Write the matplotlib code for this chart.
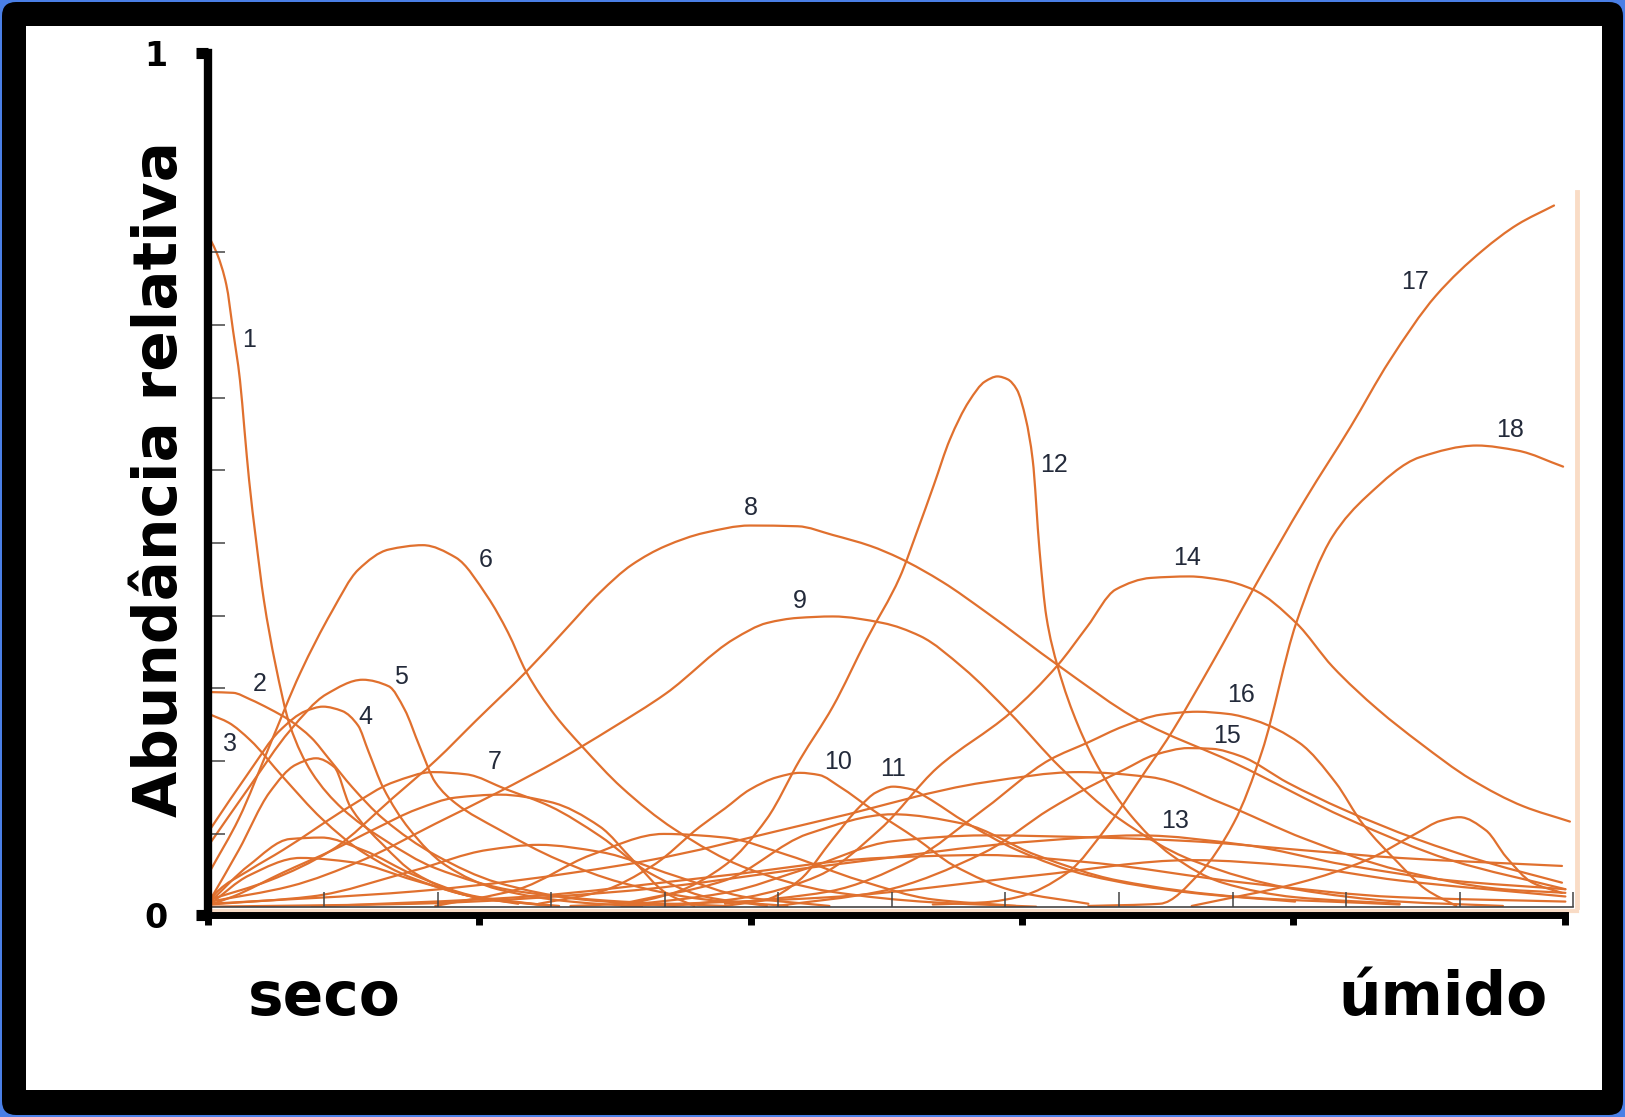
import matplotlib
matplotlib.use('Agg')
import matplotlib.pyplot as plt
from matplotlib.patches import FancyBboxPatch, Rectangle, PathPatch
from matplotlib.path import Path
from matplotlib.lines import Line2D
from matplotlib.transforms import IdentityTransform

# gradient position (0 = seco, 12 = umido) and abundance
c1_x = [0, 0.06, 0.14, 0.20, 0.26, 0.30, 0.34, 0.40, 0.47, 0.57, 0.70, 0.89, 1.16, 1.52, 1.98, 2.71, 3.62, 4.53]
c1_y = [9.17, 8.97, 8.55, 7.91, 7.24, 6.55, 5.87, 5.06, 4.22, 3.35, 2.49, 1.85, 1.35, 0.93, 0.53, 0.21, 0.07, 0.01]
c2_x = [0, 0.20, 0.35, 0.52, 0.70, 0.89, 1.05, 1.25, 1.52, 1.98, 2.53, 3.26, 4.08]
c2_y = [2.95, 2.94, 2.85, 2.72, 2.56, 2.32, 2.02, 1.64, 1.21, 0.71, 0.33, 0.10, 0.01]
c3_x = [0, 0.16, 0.35, 0.64, 0.98, 1.34, 1.80, 2.34, 2.98]
c3_y = [2.64, 2.53, 2.29, 1.78, 1.21, 0.75, 0.38, 0.13, 0.01]
c4_x = [0, 0.34, 0.61, 0.84, 0.99, 1.16, 1.30, 1.39, 1.52, 1.75, 2.07, 2.53, 3.17, 3.80]
c4_y = [1.07, 1.85, 2.42, 2.69, 2.75, 2.69, 2.49, 2.14, 1.64, 1.07, 0.57, 0.24, 0.07, 0.0]
c5_x = [0, 0.34, 0.70, 1.02, 1.34, 1.57, 1.71, 1.84, 1.98, 2.16, 2.53, 3.07, 3.62, 4.35, 5.08]
c5_y = [0.88, 1.64, 2.42, 2.92, 3.12, 3.03, 2.71, 2.21, 1.71, 1.42, 1.07, 0.64, 0.33, 0.10, 0.01]
c6_x = [0, 0.25, 0.52, 0.79, 1.07, 1.30, 1.57, 1.87, 2.16, 2.44, 2.62, 2.78, 3.03, 3.28, 3.62, 4.08, 4.72, 5.45, 6.36, 7.27]
c6_y = [0.50, 1.21, 2.21, 3.21, 4.06, 4.63, 4.91, 4.97, 4.80, 4.26, 3.77, 3.23, 2.64, 2.19, 1.64, 1.07, 0.53, 0.21, 0.06, 0.0]
c7_x = [0, 0.05, 0.34, 0.64, 1.23, 1.61, 1.96, 2.25, 2.61, 2.99, 3.43, 3.87, 4.35, 4.90]
c7_y = [0.07, 0.19, 0.50, 0.78, 1.38, 1.71, 1.85, 1.82, 1.61, 1.38, 0.97, 0.46, 0.14, 0.01]
c8_x = [0, 0.52, 1.07, 1.61, 1.99, 2.34, 2.78, 3.12, 3.43, 3.71, 4.01, 4.35, 4.75, 5.17, 5.48,
        5.81, 6.07, 6.45, 6.82, 7.48, 8.18, 9.01, 10.01, 10.92, 11.93]
c8_y = [0.10, 0.36, 0.78, 1.50, 2.02, 2.56, 3.23, 3.80, 4.32, 4.70, 4.96, 5.14, 5.24, 5.23, 5.11,
        4.96, 4.79, 4.46, 4.06, 3.30, 2.56, 1.98, 1.21, 0.64, 0.24]
c9_x = [0, 0.70, 1.34, 1.98, 2.53, 3.07, 3.53, 4.01, 4.61, 4.90, 5.17, 5.48, 5.92, 6.25, 6.63,
        7.04, 7.48, 8.00, 8.64, 9.55, 10.47, 11.38]
c9_y = [0.07, 0.28, 0.64, 1.14, 1.57, 2.02, 2.45, 2.93, 3.68, 3.90, 3.97, 3.99, 3.90, 3.72, 3.28,
        2.66, 1.92, 1.21, 0.64, 0.24, 0.07, 0.01]
c10_x = [2.89, 3.44, 3.90, 4.31, 4.53, 4.75, 4.99, 5.19, 5.36, 5.54, 5.84, 6.22, 6.54, 7.09, 7.73]
c10_y = [0.04, 0.21, 0.57, 1.10, 1.35, 1.61, 1.78, 1.84, 1.81, 1.65, 1.32, 0.93, 0.57, 0.21, 0.04]
c11_x = [4.53, 4.90, 5.19, 5.48, 5.72, 5.86, 6.01, 6.18, 6.30, 6.66, 7.10, 7.73, 8.64, 9.55]
c11_y = [0.01, 0.10, 0.37, 0.93, 1.38, 1.57, 1.65, 1.61, 1.51, 1.15, 0.78, 0.43, 0.19, 0.07]
c12_x = [3.17, 3.62, 4.08, 4.53, 4.90, 5.19, 5.48, 5.78, 6.07, 6.22, 6.37, 6.51, 6.68, 6.82, 6.93,
         7.02, 7.10, 7.18, 7.24, 7.30, 7.36, 7.46, 7.64, 7.83, 8.09, 8.46, 8.91, 9.55, 10.47]
c12_y = [0.01, 0.04, 0.19, 0.57, 1.21, 2.02, 2.75, 3.68, 4.53, 5.15, 5.80, 6.42, 6.95, 7.22, 7.29,
         7.25, 7.11, 6.70, 6.14, 4.90, 3.99, 3.30, 2.49, 1.88, 1.28, 0.71, 0.33, 0.13, 0.04]
c13_x = [3.62, 4.53, 5.26, 6.01, 6.82, 7.83, 8.64, 9.59, 10.47, 11.90]
c13_y = [0.01, 0.19, 0.53, 0.90, 0.98, 0.95, 0.90, 0.78, 0.67, 0.56]
c14_x = [4.08, 4.72, 5.36, 5.90, 6.40, 7.04, 7.46, 7.72, 7.97, 8.28, 8.62, 8.91, 9.18, 9.56,
         9.88, 10.28, 10.65, 11.10, 11.56, 11.97]
c14_y = [0.01, 0.13, 0.43, 1.07, 1.91, 2.66, 3.32, 3.85, 4.36, 4.52, 4.54, 4.49, 4.36, 3.90,
         3.30, 2.71, 2.25, 1.75, 1.38, 1.17]
c15_x = [4.99, 5.90, 6.82, 7.39, 7.73, 8.04, 8.32, 8.61, 8.82, 9.07, 9.49, 9.97, 10.62, 11.26, 11.90]
c15_y = [0.01, 0.21, 0.75, 1.34, 1.64, 1.88, 2.09, 2.18, 2.17, 2.07, 1.70, 1.34, 0.93, 0.60, 0.33]
c16_x = [4.53, 5.45, 6.18, 6.82, 7.39, 7.73, 8.04, 8.37, 8.69, 8.96, 9.20, 9.59, 9.91, 10.14,
         10.46, 10.70, 10.97]
c16_y = [0.04, 0.21, 0.64, 1.35, 2.02, 2.26, 2.48, 2.64, 2.68, 2.65, 2.56, 2.25, 1.70, 1.15,
         0.60, 0.24, 0.01]
c17_x = [6.36, 6.82, 7.13, 7.54, 7.92, 8.24, 8.42, 8.82, 9.18, 9.64, 10.04, 10.38, 10.79, 11.20, 11.51, 11.83]
c17_y = [0.03, 0.06, 0.14, 0.46, 1.15, 1.88, 2.29, 3.35, 4.36, 5.60, 6.60, 7.50, 8.40, 9.02, 9.38, 9.64]
c18_x = [7.73, 8.36, 8.71, 9.01, 9.26, 9.56, 9.88, 10.18, 10.65, 11.15, 11.51, 11.91]
c18_y = [0.01, 0.04, 0.46, 1.15, 2.14, 3.90, 5.09, 5.64, 6.18, 6.34, 6.27, 6.05]

# unlabelled species in the tangle near the base
b1_x = [0, 0.20, 0.64, 1.08, 1.45, 1.82, 2.16, 2.55, 2.99, 3.43, 3.72, 4.01, 4.26]
b1_y = [0.03, 0.14, 0.47, 0.78, 1.07, 1.34, 1.50, 1.54, 1.44, 1.10, 0.64, 0.19, 0.01]
b2_x = [0, 0.89, 1.80, 2.44, 2.89, 3.44, 4.08, 4.72, 5.45]
b2_y = [0.03, 0.14, 0.50, 0.78, 0.85, 0.75, 0.43, 0.13, 0.01]
b3_x = [1.98, 2.71, 3.35, 3.99, 4.53, 5.08, 5.72, 6.36, 7.09]
b3_y = [0.01, 0.24, 0.71, 1.00, 0.95, 0.71, 0.36, 0.10, 0.01]
b4_x = [3.62, 4.53, 5.26, 6.01, 6.63, 7.27, 7.99, 9.10, 10.47]
b4_y = [0.04, 0.36, 1.00, 1.27, 1.14, 0.71, 0.36, 0.13, 0.03]
b5_x = [0, 1.80, 3.62, 5.45, 6.82, 7.64, 8.28, 8.91, 9.64, 10.47, 11.38, 11.93]
b5_y = [0.04, 0.21, 0.57, 1.21, 1.71, 1.85, 1.78, 1.42, 0.93, 0.50, 0.24, 0.19]
b6_x = [8.64, 9.59, 10.18, 10.62, 10.83, 11.00, 11.23, 11.41, 11.64, 11.90]
b6_y = [0.01, 0.33, 0.64, 1.01, 1.18, 1.23, 1.05, 0.68, 0.33, 0.19]
b7_x = [0, 0.34, 0.70, 0.98, 1.34, 1.80, 2.34, 2.89]
b7_y = [0.07, 0.57, 0.93, 0.95, 0.78, 0.43, 0.14, 0.03]
b8_x = [0, 0.34, 0.79, 1.25, 1.80, 2.44, 3.07]
b8_y = [0.04, 0.43, 0.67, 0.61, 0.36, 0.10, 0.01]
b9_x = [0, 0.25, 0.52, 0.75, 0.93, 1.09, 1.23, 1.52, 1.80, 2.25, 2.71]
b9_y = [0.10, 0.78, 1.57, 1.95, 2.04, 1.92, 1.38, 0.85, 0.46, 0.16, 0.04]
b10_x = [0, 1.80, 3.62, 5.45, 7.27, 8.18, 9.10, 10.01, 10.92, 11.93]
b10_y = [0.0, 0.04, 0.21, 0.57, 0.90, 0.98, 0.85, 0.57, 0.36, 0.24]
b11_x = [3.62, 5.45, 7.27, 8.64, 9.55, 10.47, 11.93]
b11_y = [0.01, 0.13, 0.43, 0.64, 0.56, 0.36, 0.14]
b12_x = [0.89, 2.71, 4.53, 5.90, 6.82, 7.73, 9.10, 10.47, 11.93]
b12_y = [0.0, 0.13, 0.43, 0.67, 0.71, 0.61, 0.33, 0.13, 0.07]

label_text = [str(i) for i in range(1, 19)]
label_x = [0.34, 0.43, 0.17, 1.36, 1.68, 2.42, 2.50, 4.76, 5.19, 5.53, 6.01, 7.43, 8.49, 8.60, 8.95, 9.07, 10.61, 11.44]
label_y = [7.79, 3.06, 2.24, 2.61, 3.16, 4.76, 1.99, 5.48, 4.20, 1.99, 1.89, 6.07, 1.18, 4.80, 2.35, 2.91, 8.59, 6.55]

curves = [(c1_x, c1_y), (c2_x, c2_y), (c3_x, c3_y), (c4_x, c4_y), (c5_x, c5_y), (c6_x, c6_y),
          (c7_x, c7_y), (c8_x, c8_y), (c9_x, c9_y), (c10_x, c10_y), (c11_x, c11_y), (c12_x, c12_y),
          (c13_x, c13_y), (c14_x, c14_y), (c15_x, c15_y), (c16_x, c16_y), (c17_x, c17_y), (c18_x, c18_y),
          (b1_x, b1_y), (b2_x, b2_y), (b3_x, b3_y), (b4_x, b4_y), (b5_x, b5_y), (b6_x, b6_y),
          (b7_x, b7_y), (b8_x, b8_y), (b9_x, b9_y), (b10_x, b10_y), (b11_x, b11_y), (b12_x, b12_y)]

orange = '#e0702e'
peach = '#f9dcc6'


def smooth_path(xs, ys):
    # bezier path through the read points, tangents kept monotone so peaks don't overshoot
    n = len(xs)
    h = [xs[i + 1] - xs[i] for i in range(n - 1)]
    d = [(ys[i + 1] - ys[i]) / h[i] for i in range(n - 1)]
    m = [d[0]] + [0.0] * (n - 2) + [d[-1]]
    for k in range(1, n - 1):
        if d[k - 1] * d[k] > 0:
            w1 = 2 * h[k] + h[k - 1]
            w2 = h[k] + 2 * h[k - 1]
            m[k] = (w1 + w2) / (w1 / d[k - 1] + w2 / d[k])
    verts = [(xs[0], ys[0])]
    codes = [Path.MOVETO]
    for i in range(n - 1):
        verts += [(xs[i] + h[i] / 3, ys[i] + m[i] * h[i] / 3),
                  (xs[i + 1] - h[i] / 3, ys[i + 1] - m[i + 1] * h[i] / 3),
                  (xs[i + 1], ys[i + 1])]
        codes += [Path.CURVE4] * 3
    return Path(verts, codes)


fig = plt.figure(figsize=(16.25, 11.17), dpi=100)
fig.patch.set_facecolor('#4a7fe6')

# black frame with white page inside (kept behind the axes)
frame = FancyBboxPatch((2, 2), 1621, 1113, boxstyle='round,pad=0,rounding_size=14',
                       transform=IdentityTransform(), facecolor='black', edgecolor='none', zorder=-3)
page = Rectangle((26, 27), 1576, 1064, transform=IdentityTransform(),
                 facecolor='white', edgecolor='none', zorder=-2)
fig.patches.extend([frame, page])

# the pasted figure with the species curves
ax = fig.add_axes([0.1295, 0.1883, 0.8387, 0.6401])
ax.set_facecolor('none')
for xs, ys in curves:
    ax.add_patch(PathPatch(smooth_path(xs, ys), fill=False, edgecolor=orange, lw=1.6,
                           capstyle='round', joinstyle='round'))
for t, x, y in zip(label_text, label_x, label_y):
    ax.text(x, y, t, fontsize=18, color='#232a3a', family='Liberation Sans', ha='center', va='center')
ax.set_xlim(0, 12)
ax.set_ylim(0, 9.83)
ax.spines['top'].set_visible(False)
ax.spines['left'].set_visible(False)
ax.spines['right'].set_color(peach)
ax.spines['right'].set_linewidth(3.5)
ax.spines['right'].set_position(('outward', 3))
ax.spines['bottom'].set_color('#444444')
ax.spines['bottom'].set_linewidth(1.2)
ax.set_xticks(range(13))
ax.set_yticks(range(1, 10))
ax.tick_params(axis='both', direction='in', length=11, width=1.1, color='#444444',
               labelbottom=False, labelleft=False)
ax.add_line(Line2D([0, 1.003], [-0.006, -0.006], transform=ax.transAxes, color=peach,
                   lw=3, clip_on=False))

# thick black axes drawn on top
ax2 = fig.add_axes([0.1279, 0.1808, 0.8351, 0.7719])
ax2.set_facecolor('none')
ax2.set_xlim(0, 5)
ax2.set_ylim(0, 1)
for s in ['top', 'right']:
    ax2.spines[s].set_visible(False)
ax2.spines['left'].set_linewidth(6)
ax2.spines['bottom'].set_linewidth(5)
ax2.set_xticks(range(6))
ax2.tick_params(axis='x', direction='out', length=7, width=5, labelbottom=False)
ax2.set_yticks([0, 1])
ax2.set_yticklabels(['0', '1'])
ax2.tick_params(axis='y', direction='out', length=9, width=8, pad=20, labelsize=24)
for lab in ax2.get_yticklabels():
    lab.set_fontweight('bold')

fig.text(0.0988, 0.571, 'Abundância relativa', rotation=90, fontsize=43, fontweight='bold',
         ha='center', va='center')
fig.text(0.1995, 0.091, 'seco', fontsize=43, fontweight='bold', ha='center', va='baseline')
fig.text(0.8878, 0.091, 'úmido', fontsize=43, fontweight='bold', ha='center', va='baseline')

fig.savefig('out.png', dpi=100, facecolor=fig.get_facecolor())
